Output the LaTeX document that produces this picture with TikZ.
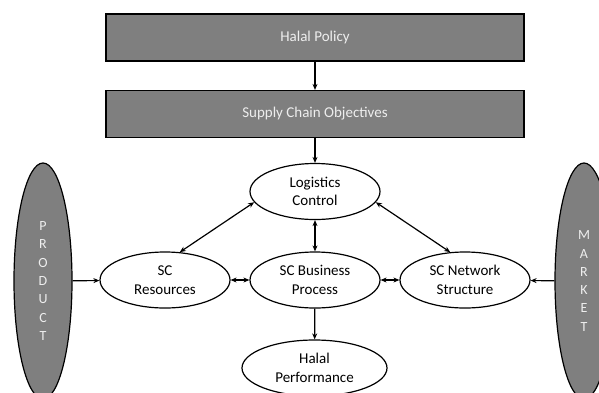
\documentclass[tikz,border=0pt]{standalone}
\usepackage{fontspec}
\setmainfont{Carlito}
\usetikzlibrary{arrows.meta,shapes.geometric}
\definecolor{boxgray}{HTML}{7F7F7F}
\definecolor{lighttext}{HTML}{EEEEEE}
\begin{document}
\begin{tikzpicture}[x=1pt,y=-1pt,
  every node/.style={font=\fontsize{15}{18.5}\selectfont},
  graybox/.style={draw=black,line width=1.2pt,fill=boxgray,text=lighttext,minimum width=418pt,minimum height=47pt,inner sep=0pt},
  oval/.style={draw=black,line width=1.2pt,fill=white,ellipse,minimum width=130pt,minimum height=56pt,inner sep=0pt,align=center},
  sideoval/.style={draw=black,line width=1.2pt,fill=boxgray,text=lighttext,ellipse,minimum width=58pt,minimum height=236pt,inner sep=0pt,align=center,font=\fontsize{14}{18.3}\selectfont},
  conn/.style={line width=1.2pt,-{Stealth[length=6pt,width=5pt]}},
  dconn/.style={line width=1.2pt,{Stealth[length=6pt,width=5pt]}-{Stealth[length=6pt,width=5pt]}}
]
\useasboundingbox (0,0) rectangle (599,392);
\node[graybox] (policy) at (315,37.5) {Halal Policy};
\node[graybox] (obj) at (315,114) {Supply Chain Objectives};
\node[oval] (log) at (315,191.5) {Logistics\\Control};
\node[oval] (res) at (165,280) {SC\\Resources};
\node[oval] (bus) at (315,280) {SC Business\\Process};
\node[oval] (net) at (465,280) {SC Network\\Structure};
\node[oval,minimum width=145pt,minimum height=56pt] (perf) at (314.5,368) {Halal\\Performance};
\node[sideoval] (prod) at (43,281) {P\\R\\O\\D\\U\\C\\T};
\node[sideoval] (mkt) at (584,281) {M\\A\\R\\K\\E\\T};
\draw[conn] (policy) -- (obj);
\draw[conn] (obj) -- (log);
\draw[dconn] (log) -- (bus);
\draw[dconn] (res) -- (bus);
\draw[dconn] (bus) -- (net);
\draw[conn] (bus) -- (perf);
\draw[conn] (prod) -- (res);
\draw[conn] (mkt) -- (net);
\draw[dconn] (log.190) -- (res.62);
\draw[dconn] (log.-10) -- (net.118);
\end{tikzpicture}
\end{document}
